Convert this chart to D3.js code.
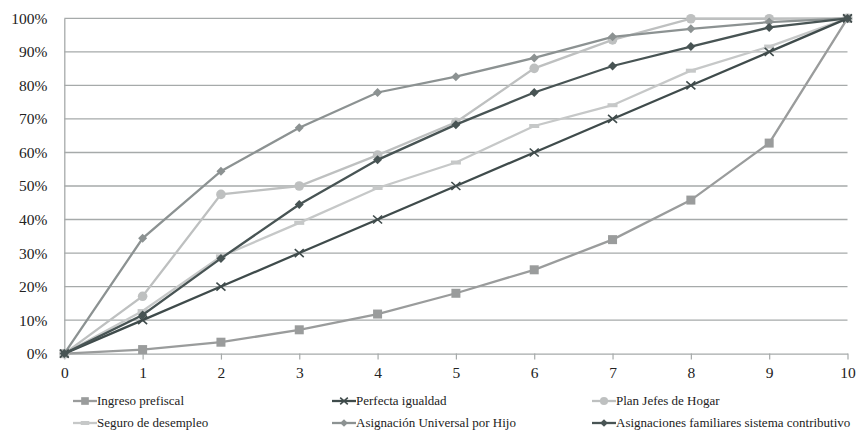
<!DOCTYPE html>
<html><head><meta charset="utf-8">
<script src="https://cdn.jsdelivr.net/npm/d3@7"></script>
<style>body{margin:0;background:#fff}svg{display:block}</style>
</head><body><svg id="c" width="858" height="431"></svg>
<script>
const deciles = [0,1,2,3,4,5,6,7,8,9,10];
const yTicks = [0,10,20,30,40,50,60,70,80,90,100];
const ingresoPrefiscal = [0,1.2,3.4,7.1,11.8,18,25,34,45.8,62.8,100];
const perfectaIgualdad = [0,10,20,30,40,50,60,70,80,90,100];
const planJefes = [0,17.1,47.5,50,59.2,69,85.1,93.6,99.9,99.9,100];
const seguroDesempleo = [0,12.7,29,39,49.4,57,67.9,74.1,84.4,91.6,100];
const auh = [0,34.4,54.4,67.4,77.9,82.6,88.2,94.5,96.9,98.9,100];
const asigFamiliares = [0,11.5,28.4,44.5,57.8,68.3,77.9,85.8,91.6,97.3,100];
const seriesNames = ["Ingreso prefiscal","Perfecta igualdad","Plan Jefes de Hogar","Seguro de desempleo","Asignación Universal  por Hijo","Asignaciones familiares sistema contributivo"];

const FONT = "'Liberation Serif'";

const series = [
 {name:seriesNames[0], v:ingresoPrefiscal, c:"#9a9c9c", m:"square"},
 {name:seriesNames[3], v:seguroDesempleo, c:"#c6c8c8", m:"dash"},
 {name:seriesNames[2], v:planJefes, c:"#bec0c0", m:"circle"},
 {name:seriesNames[4], v:auh, c:"#8c9292", m:"diamond"},
 {name:seriesNames[1], v:perfectaIgualdad, c:"#3f4b4b", m:"x"},
 {name:seriesNames[5], v:asigFamiliares, c:"#485454", m:"diamond"}
];

const svg = d3.select("#c");
const x = d3.scaleLinear().domain([0,10]).range([64.3,847.5]);
const y = d3.scaleLinear().domain([0,100]).range([353.6,18.4]);

svg.append("g").selectAll("line").data(yTicks.filter(d=>d>0)).join("line")
  .attr("x1",x(0)).attr("x2",x(10)).attr("y1",d=>y(d)).attr("y2",d=>y(d))
  .attr("stroke","#a6aaaa").attr("stroke-width",1.3);

const ya = svg.append("g").attr("transform",`translate(${x(0)},0)`)
  .call(d3.axisLeft(y).tickValues(yTicks).tickFormat(d=>d+"%").tickSize(0).tickPadding(17));
ya.attr("font-family",null).attr("font-size",null);
ya.select(".domain").attr("stroke","#a6aaaa").attr("stroke-width",1.3);
ya.selectAll("text").style("font-family",FONT).style("font-size","15.5px").attr("fill","#222").attr("dy","0.32em");

const xa = svg.append("g").attr("transform",`translate(0,${y(0)})`)
  .call(d3.axisBottom(x).tickValues(deciles).tickFormat(d3.format("d")).tickSize(6).tickSizeOuter(0).tickPadding(7));
xa.attr("font-family",null).attr("font-size",null);
xa.select(".domain").attr("stroke","#a6aaaa").attr("stroke-width",1.3);
xa.selectAll(".tick line").attr("stroke","#a6aaaa").attr("stroke-width",1.2);
xa.selectAll("text").style("font-family",FONT).style("font-size","15.5px").attr("fill","#222");

function marker(g, type, cx, cy, c, s){
  s = s||1;
  if(type==="square") g.append("rect").attr("x",cx-4.5*s).attr("y",cy-4.5*s).attr("width",9*s).attr("height",9*s).attr("fill",c);
  else if(type==="circle") g.append("circle").attr("cx",cx).attr("cy",cy).attr("r",4.8*s).attr("fill",c);
  else if(type==="diamond") g.append("path").attr("d",`M${cx},${cy-4.5*s}L${cx+4.5*s},${cy}L${cx},${cy+4.5*s}L${cx-4.5*s},${cy}Z`).attr("fill",c);
  else if(type==="dash") g.append("rect").attr("x",cx-5*s).attr("y",cy-2).attr("width",10*s).attr("height",4).attr("fill",c);
  else if(type==="x") g.append("path").attr("d",`M${cx-4.5*s},${cy-4*s}L${cx+4.5*s},${cy+4*s}M${cx-4.5*s},${cy+4*s}L${cx+4.5*s},${cy-4*s}`).attr("stroke",c).attr("stroke-width",1.6).attr("fill","none");
}

const line = d3.line().x((d,i)=>x(deciles[i])).y(d=>y(d));
series.forEach(s=>{
  const g = svg.append("g");
  g.append("path").datum(s.v).attr("d",line).attr("fill","none").attr("stroke",s.c).attr("stroke-width",2.3);
  s.v.forEach((v,i)=>marker(g,s.m,x(deciles[i]),y(v),s.c));
});

const legendOrder = [
 [series[0],73,401],[series[4],332,401],[series[2],592,401],
 [series[1],73,423],[series[3],332,423],[series[5],592,423]
];
legendOrder.forEach(([s,lx,ly])=>{
  const g = svg.append("g");
  g.append("line").attr("x1",lx).attr("x2",lx+24).attr("y1",ly).attr("y2",ly).attr("stroke",s.c).attr("stroke-width",2.3);
  marker(g,s.m,lx+12,ly,s.c,0.85);
  g.append("text").attr("x",lx+24).attr("y",ly).attr("dy","0.33em").style("font-family",FONT).style("font-size","13px").attr("fill","#222").text(s.name);
});
</script></body></html>
